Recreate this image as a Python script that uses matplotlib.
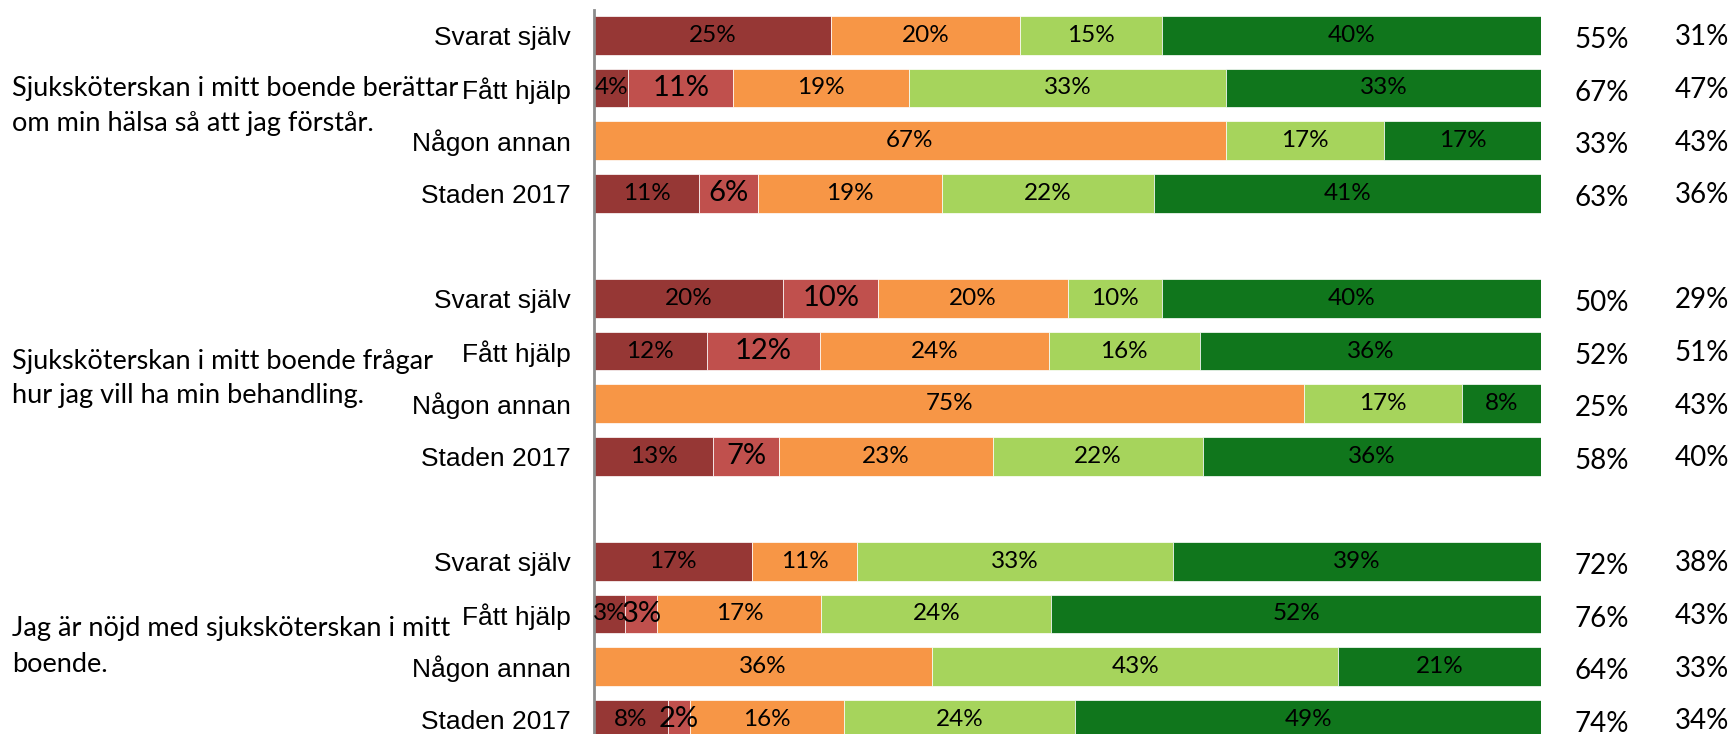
import matplotlib.pyplot as plt
import numpy as np

# Answer groups and their statements (one list per line)
statements = [
    ["Sjuksköterskan i mitt boende berättar", "om min hälsa så att jag förstår."],
    ["Sjuksköterskan i mitt boende frågar", "hur jag vill ha min behandling."],
    ["Jag är nöjd med sjuksköterskan i mitt", "boende."],
]
respondents = ["Svarat själv", "Fått hjälp", "Någon annan", "Staden 2017"]

# Share per answer category (dark red, red, orange, light green, dark green), one row per respondent
never = [25, 3.6, 0, 11.1,   20, 11.9, 0, 12.6,   16.7, 3.3, 0, 7.8]
seldom = [0, 11.1, 0, 6.2,   10, 12.0, 0, 6.9,    0, 3.4, 0, 2.3]
sometimes = [20, 18.6, 66.7, 19.4,   20, 24.1, 75.0, 22.6,   11.1, 17.3, 35.7, 16.3]
often = [15, 33.4, 16.7, 22.4,   10, 16.0, 16.7, 22.2,   33.3, 24.3, 42.9, 24.4]
always = [40, 33.3, 16.6, 40.9,   40, 36.0, 8.3, 35.7,   38.9, 51.7, 21.4, 49.2]

# Two summary columns at the right
summary_a = ["55%", "67%", "33%", "63%", "50%", "52%", "25%", "58%", "72%", "76%", "64%", "74%"]
summary_b = ["31%", "47%", "43%", "36%", "29%", "51%", "43%", "40%", "38%", "43%", "33%", "34%"]

colors = ["#963735", "#C0504D", "#F79646", "#A6D45C", "#10761C"]
label_sizes = [17.5, 21, 17.5, 17.5, 17.5]

plt.rcParams["font.family"] = ["Lato", "DejaVu Sans"]

W, H = 1735, 734
fig = plt.figure(figsize=(W / 100, H / 100), dpi=100)

# rows 0-3, 5-8, 10-13 (blank row between groups)
rows = np.array([g * 5 + i for g in range(3) for i in range(4)], dtype=float)
pitch = 52.6
row0 = 35.4
top_px = 10
ax_left, ax_right = 594 / W, 1541 / W
ax = fig.add_axes([ax_left, 0, ax_right - ax_left, (H - top_px) / H])
ax.set_xlim(0, 100)
ax.set_ylim((H - row0) / pitch, -(row0 - top_px) / pitch)

series = [never, seldom, sometimes, often, always]
left = np.zeros(len(rows))
for vals, col, fs in zip(series, colors, label_sizes):
    vals = np.array(vals, dtype=float)
    ax.barh(rows, vals, left=left, height=0.74, color=col,
            edgecolor="white", linewidth=0.5)
    for y, l, v in zip(rows, left, vals):
        if v > 0:
            ax.text(l + v / 2, y, f"{v:.0f}%", ha="center", va="center",
                    fontsize=fs, color="black", clip_on=True)
    left += vals

for side in ["top", "right", "bottom"]:
    ax.spines[side].set_visible(False)
ax.spines["left"].set_color("#8c8c8c")
ax.spines["left"].set_linewidth(2)
ax.set_xticks([])
ax.set_yticks(rows)
ax.set_yticklabels(respondents * 3, fontsize=19, family="Liberation Sans")
ax.tick_params(axis="y", length=0, pad=17)

# summary columns
for y, a, b in zip(rows, summary_a, summary_b):
    ax.annotate(a, xy=(1602 / W, y), xycoords=("figure fraction", "data"),
                xytext=(0, -3.5), textcoords="offset points",
                ha="center", va="center", fontsize=20, annotation_clip=False)
    ax.annotate(b, xy=(1702 / W, y), xycoords=("figure fraction", "data"),
                xytext=(0, -1.5), textcoords="offset points",
                ha="center", va="center", fontsize=20, annotation_clip=False)

# statement text on the left, line by line
line_px = [(88.5, 124), (361, 395), (628.5, 664)]
for lines, ys in zip(statements, line_px):
    for txt, ypx in zip(lines, ys):
        fig.text(12 / W, 1 - ypx / H, txt, ha="left", va="center",
                 fontsize=19.5)

fig.savefig("out.png", dpi=100)
